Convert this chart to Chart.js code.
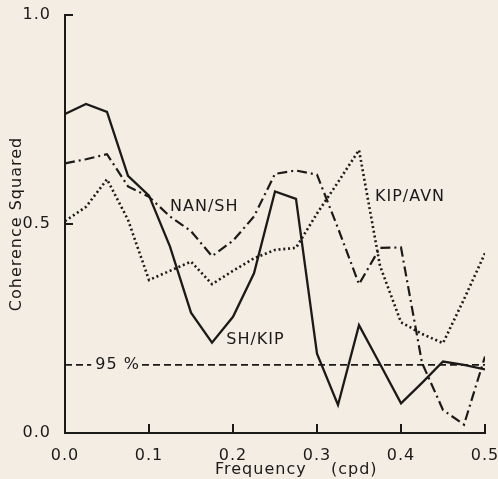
<!DOCTYPE html>
<html>
<head>
<meta charset="utf-8">
<script src="https://cdn.jsdelivr.net/npm/chart.js@4"></script>
<style>
  html, body { margin: 0; padding: 0; background: #f3ede4; }
  #wrap { width: 498px; height: 479px; }
</style>
</head>
<body>
<div id="wrap"><canvas id="c" width="498" height="479"></canvas></div>
<script>
// ---- data ----
const FREQ = [0, 0.025, 0.05, 0.075, 0.1, 0.125, 0.15, 0.175, 0.2, 0.225, 0.25,
              0.275, 0.3, 0.325, 0.35, 0.375, 0.4, 0.425, 0.45, 0.475, 0.5];
const SH_KIP  = [0.763, 0.787, 0.768, 0.615, 0.568, 0.446, 0.288, 0.216, 0.278, 0.382, 0.578,
                 0.560, 0.190, 0.067, 0.258, 0.165, 0.071, 0.120, 0.171, 0.163, 0.152];
const NAN_SH  = [0.645, 0.655, 0.667, 0.590, 0.565, 0.518, 0.483, 0.423, 0.460, 0.518, 0.620,
                 0.628, 0.618, 0.490, 0.356, 0.443, 0.444, 0.168, 0.055, 0.020, 0.183];
const KIP_AVN = [0.507, 0.541, 0.607, 0.510, 0.366, 0.388, 0.410, 0.356, 0.388, 0.418, 0.438,
                 0.443, 0.525, 0.600, 0.677, 0.400, 0.265, 0.237, 0.215, 0.320, 0.430];
const LEVEL_95 = 0.163;
const X_TICKS = [0, 0.1, 0.2, 0.3, 0.4, 0.5];
const Y_TICKS = [0, 0.5, 1.0];

// curve labels placed in data coordinates
const LABELS = [
  { text: 'NAN/SH',  x: 0.125, y: 0.541, mask: false },
  { text: 'KIP/AVN', x: 0.369, y: 0.565, mask: false },
  { text: 'SH/KIP',  x: 0.192, y: 0.222, mask: false },
  { text: '95 %',    x: 0.036, y: LEVEL_95, mask: true }
];

const INK = '#1c1a18';
const BG = '#f3ede4';
const FONT = 'DejaVu Sans';
const toPts = (ys) => FREQ.map((f, i) => ({ x: f, y: ys[i] }));

const bgPlugin = {
  id: 'bg',
  beforeDraw(chart) {
    const ctx = chart.ctx;
    ctx.save();
    ctx.fillStyle = BG;
    ctx.fillRect(0, 0, chart.width, chart.height);
    ctx.restore();
    ctx.letterSpacing = '1px';
  }
};

const decoPlugin = {
  id: 'deco',
  afterDraw(chart) {
    const ctx = chart.ctx;
    const xs = chart.scales.x, ys = chart.scales.y;
    ctx.save();
    ctx.strokeStyle = INK;
    ctx.lineWidth = 2;
    ctx.setLineDash([]);
    // inward tick marks
    X_TICKS.forEach(v => {
      if (v === 0) return;
      const px = xs.getPixelForValue(v);
      ctx.beginPath(); ctx.moveTo(px, ys.bottom); ctx.lineTo(px, ys.bottom - 9); ctx.stroke();
    });
    Y_TICKS.forEach(v => {
      if (v === 0) return;
      const py = ys.getPixelForValue(v);
      ctx.beginPath(); ctx.moveTo(xs.left, py); ctx.lineTo(xs.left + 8, py); ctx.stroke();
    });
    // labels
    ctx.font = '16px "' + FONT + '"';
    ctx.letterSpacing = '1px';
    ctx.textBaseline = 'middle';
    ctx.textAlign = 'left';
    LABELS.forEach(l => {
      const px = xs.getPixelForValue(l.x), py = ys.getPixelForValue(l.y);
      const w = ctx.measureText(l.text).width;
      if (l.mask) {
        ctx.fillStyle = BG;
        ctx.fillRect(px - 4, py - 9, w + 6, 18);
      }
      ctx.fillStyle = INK;
      ctx.fillText(l.text, px, py);
    });
    ctx.restore();
  }
};

new Chart(document.getElementById('c'), {
  type: 'line',
  data: {
    datasets: [
      { label: 'SH/KIP', data: toPts(SH_KIP), borderColor: INK, borderWidth: 2.3 },
      { label: 'NAN/SH', data: toPts(NAN_SH), borderColor: INK, borderWidth: 2.2, borderDash: [10, 4, 2, 4] },
      { label: 'KIP/AVN', data: toPts(KIP_AVN), borderColor: INK, borderWidth: 2.6, borderDash: [2, 2.8] },
      { label: '95 %', data: [{ x: 0, y: LEVEL_95 }, { x: 0.5, y: LEVEL_95 }], borderColor: INK, borderWidth: 1.6, borderDash: [7, 4] }
    ]
  },
  options: {
    responsive: false,
    animation: false,
    elements: { point: { radius: 0 }, line: { tension: 0, fill: false } },
    layout: { padding: { top: 15, right: 13, left: 0, bottom: 0 } },
    plugins: { legend: { display: false }, tooltip: { enabled: false } },
    scales: {
      x: {
        type: 'linear', min: 0, max: 0.5,
        grid: { display: false },
        border: { display: true, color: INK, width: 2 },
        afterBuildTicks(s) { s.ticks = X_TICKS.map(v => ({ value: v })); },
        ticks: { color: INK, font: { family: FONT, size: 16 }, padding: 5, maxRotation: 0,
                 callback: v => Number(v).toFixed(1) },
        title: { display: true, text: '       Frequency    (cpd)', color: INK,
                 font: { family: FONT, size: 16 }, padding: { top: 0, bottom: 0 } },
        afterFit(s) { s.height = 46; s.paddingLeft = 0; s.paddingRight = 0; }
      },
      y: {
        type: 'linear', min: 0, max: 1,
        grid: { display: false },
        border: { display: true, color: INK, width: 2 },
        afterBuildTicks(s) { s.ticks = Y_TICKS.map(v => ({ value: v })); },
        ticks: { color: INK, font: { family: FONT, size: 16 }, padding: 6,
                 callback: v => Number(v).toFixed(1) },
        title: { display: true, text: 'Coherence Squared', color: INK,
                 font: { family: FONT, size: 16 }, padding: { top: 7, bottom: 0 } },
        afterFit(s) { s.width = 65; s.paddingTop = 0; s.paddingBottom = 0; }
      }
    }
  },
  plugins: [bgPlugin, decoPlugin]
});
</script>
</body>
</html>
